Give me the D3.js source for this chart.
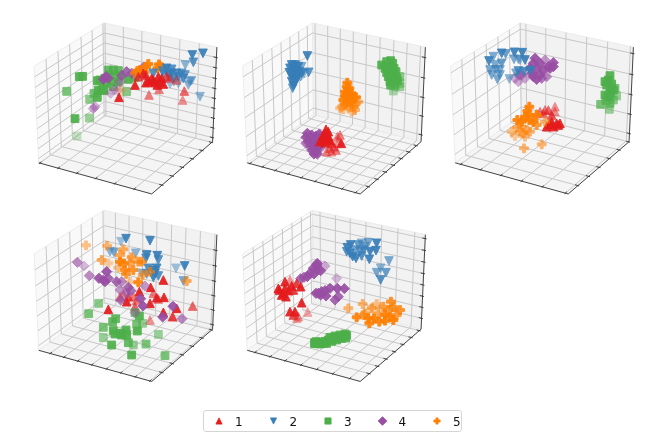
<!DOCTYPE html>
<html>
<head>
<meta charset="utf-8">
<title>3D scatter panels</title>
<style>
  body { margin: 0; background: #fff; }
  svg { display: block; filter: blur(.4px); }
</style>
</head>
<body>
<script src="https://cdn.jsdelivr.net/npm/d3@7"></script>
<div id="chart"></div>
<script>
// points are [x, y, shade], x/y on a 630x570 panel grid
var p1s1 = [[297,262,1],[345,225,1],[387,255,.6],[417,238,.6],[493,243,.7],[488,270,.5],[378,195,.9],[370,190,.9],[385,215,1],[400,210,1],[415,200,1],[420,215,1],[405,218,1],[378,218,1],[430,222,1],[355,200,.8],[440,200,.8],[425,205,1],[395,205,1],[412,225,1],[450,205,.5],[470,210,.5]];
var p1s2 = [[517,135,1],[549,130,1],[520,157,.9],[496,165,.6],[540,260,.6],[515,212,.6],[505,225,.6],[510,215,.6],[490,205,.9],[485,190,.8],[470,190,.9],[455,190,1],[440,175,1],[445,195,1],[430,190,.8],[400,190,.9],[460,205,.9],[475,200,.9],[450,222,.5],[475,220,.5],[462,215,.5],[495,195,.8],[428,183,.8],[455,178,.9]];
var p1s3 = [[171,378,.35],[165,326,1],[208,324,.6],[140,244,.8],[178,200,1],[188,199,1],[209,268,.7],[232,262,1],[320,245,.7],[222,250,.8],[235,240,1],[245,240,1],[252,242,.9],[232,212,1],[265,180,.9],[280,180,.9],[295,182,.9],[255,205,.9],[275,215,.9],[295,215,.9],[325,208,1],[345,203,.8],[270,195,.8],[285,200,.8],[260,222,.9],[240,210,1],[300,195,.8],[280,230,.8],[250,235,.9]];
var p1s4 = [[225,290,.5],[220,296,.5],[272,250,.4],[283,238,.4],[295,240,.4],[258,200,1],[250,208,1],[320,185,.9],[305,197,.8],[335,190,.8],[370,172,.8],[365,182,.7],[265,205,.9],[345,195,.6],[300,215,.5]];
var p1s5 = [[385,162,1],[417,163,1],[378,170,.9],[420,170,.9],[352,183,1],[360,180,.9],[303,240,.3],[412,175,1],[375,185,.8],[345,190,.8]];

var p2s1 = [[288,358,1],[285,370,1],[278,378,1],[295,378,1],[290,388,1],[275,392,1],[300,392,1],[285,398,1],[330,375,.6],[322,380,.5],[334,400,1],[305,400,.8],[312,410,.6],[300,415,.6],[290,425,.6],[305,425,.5],[318,420,.6],[325,395,.5],[295,365,1],[280,385,1],[268,395,.8]];
var p2s2 = [[232,138,1],[236,187,.9],[188,235,.8],[185,165,1],[195,165,1],[205,170,1],[180,175,1],[190,175,1],[200,178,1],[178,188,1],[188,188,1],[198,188,1],[208,185,1],[185,198,1],[195,198,1],[205,198,1],[215,190,1],[190,208,1],[200,208,1],[185,215,1],[195,218,1],[190,228,1],[222,190,.6],[215,170,.7],[212,200,.7]];
var p2s3 = [[455,165,1],[470,155,1],[482,152,1],[488,160,1],[465,175,1],[478,172,1],[492,175,1],[470,188,1],[485,190,1],[498,185,1],[475,200,1],[488,202,1],[500,205,1],[510,200,.7],[480,215,1],[495,215,1],[510,220,.6],[482,225,1],[495,228,.8],[490,243,.5],[510,230,.6],[502,212,1]];
var p2s4 = [[232,370,1],[245,375,1],[258,378,1],[268,372,1],[228,382,1],[240,385,1],[255,388,1],[268,385,1],[235,395,1],[248,398,1],[262,398,1],[228,400,.8],[242,408,1],[255,410,1],[268,408,1],[245,420,1],[258,422,1],[270,415,.8],[252,432,1],[262,432,1],[275,400,.5]];
var p2s5 = [[352,218,1],[350,230,1],[358,235,1],[345,245,1],[355,245,1],[365,250,1],[345,258,1],[355,260,1],[368,262,1],[378,262,1],[340,270,1],[352,275,1],[365,275,1],[385,275,.6],[335,290,.5],[330,295,.4],[345,285,.7],[358,290,.7],[372,290,.7],[375,300,.6],[365,305,.5],[340,298,.5],[350,250,1],[378,280,.6]];

var p3s1 = [[345,290,.5],[325,300,.7],[345,305,.5],[310,310,.6],[335,315,.8],[290,310,.3],[350,340,1],[335,335,1],[320,350,1],[340,350,1],[355,345,1],[300,305,.6],[360,340,1],[328,342,1],[315,300,.6]];
var p3s2 = [[147,153,1],[160,140,.7],[185,130,1],[197,132,.8],[223,127,1],[247,128,1],[165,165,.7],[185,160,.8],[222,148,.7],[235,148,.6],[255,150,1],[240,150,.6],[150,180,.7],[167,180,.7],[180,180,.7],[155,195,.7],[172,208,.7],[180,195,.7],[208,207,.6],[272,182,1],[252,185,.9],[235,183,.9],[228,190,.7]];
var p3s3 = [[510,197,1],[505,210,1],[500,225,1],[515,222,1],[510,238,1],[495,255,1],[520,240,1],[505,260,1],[530,258,.6],[482,283,.8],[510,280,.8],[520,270,.7],[498,272,.8],[508,298,.6],[525,235,.8],[495,215,1],[512,250,1]];
var p3s4 = [[285,145,1],[315,150,.6],[340,158,1],[280,160,1],[300,160,1],[325,170,1],[270,175,1],[290,175,1],[310,180,1],[330,175,1],[340,170,1],[280,200,1],[300,195,1],[320,200,.7],[290,208,1],[245,195,.7],[255,205,.5],[235,215,.5],[238,195,.7],[275,190,1],[305,205,.8],[225,205,.5]];
var p3s5 = [[268,290,1],[262,303,1],[290,315,1],[265,315,1],[232,330,1],[245,335,1],[268,330,1],[280,335,1],[255,320,1],[245,350,.6],[232,352,.7],[215,365,.5],[225,378,.4],[260,360,.6],[270,365,.6],[255,380,.5],[250,370,.6],[315,335,.6],[252,415,.6],[305,403,.6],[290,345,.8],[240,365,.5]];

var p4s1 = [[430,240,1],[392,262,1],[358,275,1],[432,292,1],[410,293,1],[400,280,.6],[390,310,1],[415,297,.6],[265,328,1],[320,305,1],[300,290,.6],[325,290,.8],[340,290,.6],[350,300,.6],[518,318,.7],[430,337,1],[470,325,1],[458,350,.9],[390,360,.5],[345,320,.7],[310,280,.5]];
var p4s2 = [[318,116,1],[303,125,.5],[390,122,1],[270,155,.6],[282,157,.7],[347,160,.6],[380,165,1],[412,167,1],[415,180,.9],[494,198,1],[468,205,.5],[490,243,.7],[385,205,.9],[410,205,1],[400,212,1],[380,222,.8],[400,232,1],[415,228,.9],[365,220,.6],[378,175,.9],[405,220,1]];
var p4s3 = [[236,310,.7],[206,341,.8],[287,356,.9],[278,365,.9],[250,382,.8],[250,413,.6],[280,392,1],[285,402,1],[305,405,1],[318,390,1],[320,405,1],[352,393,1],[350,372,.8],[368,370,.6],[358,348,1],[345,338,.8],[415,403,.6],[378,432,.8],[340,435,.6],[325,428,.9],[275,435,1],[335,465,1],[435,467,.8],[300,400,1]];
var p4s4 = [[172,187,.7],[192,198,.4],[208,227,.7],[260,215,1],[237,235,1],[255,245,1],[265,235,.9],[290,245,.9],[305,245,.7],[300,270,.6],[325,262,.9],[333,272,.8],[320,280,.7],[302,300,.8],[362,296,1],[369,318,1],[375,258,.6],[459,319,1],[428,351,1],[486,356,.7],[345,338,.5],[250,240,.9]];
var p4s5 = [[198,136,.5],[261,137,.6],[310,148,.7],[245,180,.7],[300,165,.7],[335,172,.8],[300,185,1],[312,190,.9],[365,185,.8],[330,190,.7],[295,203,.5],[340,210,.9],[355,185,.8],[318,222,.8],[368,225,.7],[355,247,1],[500,243,.7],[390,215,.7],[265,190,.4],[330,245,.4],[315,210,.9]];

var p5s1 = [[180,240,.5],[165,245,1],[200,250,.9],[148,270,1],[165,265,1],[185,258,1],[212,260,1],[175,272,1],[155,285,1],[168,290,1],[145,265,1],[190,270,.9],[215,308,1],[180,335,1],[195,335,1],[205,350,.5],[233,336,.4],[200,355,.4],[190,345,.8],[160,280,1]];
var p5s2 = [[352,143,1],[362,135,1],[350,155,.9],[368,170,1],[378,175,1],[360,160,1],[385,135,.8],[395,130,.6],[405,140,.7],[415,128,.7],[440,130,1],[420,155,1],[438,152,1],[418,178,1],[400,150,.8],[375,150,.7],[390,155,.8],[395,168,.9],[477,183,.7],[452,205,.6],[440,218,.7],[468,218,.8],[452,240,.9]];
var p5s3 = [[254,431,1],[262,430,1],[272,426,1],[285,424,1],[295,420,1],[310,416,1],[325,412,1],[340,408,1],[350,406,1],[258,425,1],[270,432,1],[290,430,1],[305,424,1],[320,420,1],[335,415,1],[347,414,1],[254,428,1],[280,430,1],[300,412,1],[315,408,1],[330,405,1],[345,402,1]];
var p5s4 = [[262,190,1],[285,198,.5],[250,205,1],[262,208,1],[272,212,1],[240,220,1],[252,222,1],[222,232,.9],[212,236,.9],[232,230,1],[320,235,.4],[258,280,1],[272,285,1],[285,272,1],[300,265,1],[322,265,1],[343,266,1],[288,288,1],[325,290,.9],[315,300,.9],[275,275,1],[260,195,1],[265,280,1]];
var p5s5 = [[355,325,.6],[380,352,1],[398,312,.6],[405,340,.7],[425,325,.8],[440,312,.5],[460,320,.8],[483,305,.9],[490,322,.9],[510,330,.9],[415,355,1],[432,355,1],[448,365,1],[418,370,1],[465,345,1],[480,350,1],[490,360,1],[500,345,.8],[445,340,.7],[465,362,1],[475,330,.8],[400,345,.7]];

var labels = ["1", "2", "3", "4", "5"];
var colors = ["#e41a1c", "#377eb8", "#4daf4a", "#984ea3", "#ff7f00"];

// tick positions along each cube edge, 0..1
var p1x = [.01, .178, .346, .514, .682, .85], p1y = [.16, .325, .49, .655, .82, .985], p1z = [.045, .152, .258, .365, .47, .575, .68, .79, .895];
var p2x = [.024, .14, .255, .372, .49, .61, .73, .845, .96], p2y = [.13, .265, .40, .53, .66, .79, .92], p2z = [.076, .28, .48, .685, .895];
var p3x = [.05, .232, .414, .597, .78, .975], p3y = [.15, .32, .49, .66, .83, .995], p3z = [.09, .30, .51, .72, .935];
var p4x = [.105, .23, .355, .48, .61, .735, .86, .985], p4y = [.16, .325, .49, .655, .82, .985], p4z = [.05, .21, .365, .52, .68, .84];
var p5x = [.07, .21, .345, .485, .625, .765, .91], p5y = [.14, .275, .41, .55, .69, .83, .97], p5z = [.12, .24, .36, .48, .60, .72, .84, .96];

var panels = [
  {cx: 127, cy: 105.5, ox: 20, oy: 10, xt: p1x, yt: p1y, zt: p1z, series: [p1s1, p1s2, p1s3, p1s4, p1s5], order: [2, 3, 4, 1, 0]},
  {cx: 335.5, cy: 105.5, ox: 230, oy: 10, xt: p2x, yt: p2y, zt: p2z, series: [p2s1, p2s2, p2s3, p2s4, p2s5], order: [1, 2, 4, 3, 0]},
  {cx: 543.5, cy: 105.5, ox: 440, oy: 10, xt: p3x, yt: p3y, zt: p3z, series: [p3s1, p3s2, p3s3, p3s4, p3s5], order: [3, 1, 2, 0, 4]},
  {cx: 127, cy: 293, ox: 20, oy: 200, xt: p4x, yt: p4y, zt: p4z, series: [p4s1, p4s2, p4s3, p4s4, p4s5], order: [1, 4, 0, 2, 3]},
  {cx: 335.5, cy: 293, ox: 230, oy: 200, xt: p5x, yt: p5y, zt: p5z, series: [p5s1, p5s2, p5s3, p5s4, p5s5], order: [1, 4, 2, 3, 0]}
];
var markerSizes = [8.6, 8.6, 7.8, 7.2, 8.8];

var width = 665, height = 437;
var svg = d3.select("#chart").append("svg").attr("width", width).attr("height", height);

// matplotlib style marker outlines, size is the full width in px
function marker(kind) {
  return {draw: function(c, s) {
    var r = s / 2;
    if (kind == 0) { c.moveTo(0, -r); c.lineTo(r, r); c.lineTo(-r, r); c.closePath(); }
    if (kind == 1) { c.moveTo(0, r); c.lineTo(r, -r); c.lineTo(-r, -r); c.closePath(); }
    if (kind == 2) { c.rect(-r, -r, s, s); }
    if (kind == 3) { r = r * 1.41; c.moveTo(0, -r); c.lineTo(r, 0); c.lineTo(0, r); c.lineTo(-r, 0); c.closePath(); }
    if (kind == 4) {
      var a = r / 3;
      c.moveTo(-a, -r); c.lineTo(a, -r); c.lineTo(a, -a); c.lineTo(r, -a); c.lineTo(r, a); c.lineTo(a, a);
      c.lineTo(a, r); c.lineTo(-a, r); c.lineTo(-a, a); c.lineTo(-r, a); c.lineTo(-r, -a); c.lineTo(-a, -a);
      c.closePath();
    }
  }};
}
function markerPath(kind, s) {
  return d3.symbol().type(marker(kind)).size(s)();
}

// perspective view, elev 30 azim -60, distance 10
var u = [0.866, 0.5, 0], v = [-0.25, 0.433, 0.866], w = [0.433, -0.75, 0.5];
function project(x, y, z) {
  var p = [x - .5, y - .5, z - .5];
  var dz = 10 - d3.sum(p, function(d, i) { return d * w[i]; });
  return [
    d3.sum(p, function(d, i) { return d * u[i]; }) / dz,
    d3.sum(p, function(d, i) { return d * v[i]; }) / dz
  ];
}

panels.forEach(function(panel) {
  var sx = d3.scaleLinear().domain([-.1, .1]).range([panel.cx - 130.4, panel.cx + 130.4]);
  var sy = d3.scaleLinear().domain([-.1, .1]).range([panel.cy + 110.3, panel.cy - 110.3]);
  var px = d3.scaleLinear().domain([0, 630]).range([panel.ox, panel.ox + 210]);
  var py = d3.scaleLinear().domain([0, 570]).range([panel.oy, panel.oy + 190]);
  var g = svg.append("g");

  var line = d3.line()
    .x(function(d) { var q = project(d[0], d[1], d[2]); return sx(q[0]); })
    .y(function(d) { var q = project(d[0], d[1], d[2]); return sy(q[1]); });

  var panes = [
    {fill: "#f9f9f9", c: [[0,0,0],[0,1,0],[0,1,1],[0,0,1]]},
    {fill: "#f2f2f2", c: [[0,1,0],[1,1,0],[1,1,1],[0,1,1]]},
    {fill: "#f5f5f5", c: [[0,0,0],[1,0,0],[1,1,0],[0,1,0]]}
  ];
  g.selectAll(".pane").data(panes).enter().append("path")
    .attr("d", function(d) { return line(d.c) + "Z"; })
    .attr("fill", function(d) { return d.fill; })
    .attr("stroke", "#e8e8e8").attr("stroke-width", .8);

  var grid = [];
  panel.xt.forEach(function(t) { grid.push([[t,0,0],[t,1,0],[t,1,1]]); });
  panel.yt.forEach(function(t) { grid.push([[1,t,0],[0,t,0],[0,t,1]]); });
  panel.zt.forEach(function(t) { grid.push([[0,0,t],[0,1,t],[1,1,t]]); });
  g.selectAll(".grid").data(grid).enter().append("path")
    .attr("d", line).attr("fill", "none").attr("stroke", "#c8c8c8").attr("stroke-width", 1);

  // axis edges and their small ticks
  var edges = [[[0,0,0],[1,0,0]], [[1,0,0],[1,1,0]], [[1,1,0],[1,1,1]]];
  var tick = [];
  panel.xt.forEach(function(t) { tick.push([[t,-.012,0],[t,.025,0]]); });
  panel.yt.forEach(function(t) { tick.push([[.975,t,0],[1.012,t,0]]); });
  panel.zt.forEach(function(t) { tick.push([[.975,1,t],[1.012,1,t]]); });
  g.selectAll(".edge").data(edges.concat(tick)).enter().append("path")
    .attr("d", line).attr("fill", "none").attr("stroke", "#333").attr("stroke-width", .9);

  // edge colour matches the face, like a scatter with edgecolors='face'
  panel.order.forEach(function(i) {
    g.append("g").selectAll("path").data(panel.series[i]).enter().append("path")
      .attr("d", markerPath(i, markerSizes[i]))
      .attr("transform", function(d) { return "translate(" + px(d[0]) + "," + py(d[1]) + ")"; })
      .attr("fill", colors[i])
      .attr("stroke", colors[i])
      .attr("stroke-width", 1)
      .attr("stroke-linejoin", "miter")
      .attr("opacity", function(d) { return d[2] * .92; });
  });
});

// legend
var legend = svg.append("g");
legend.append("rect")
  .attr("x", 203.5).attr("y", 410.5).attr("width", 258).attr("height", 21).attr("rx", 2.5)
  .attr("fill", "#fff").attr("stroke", "#d5d5d5");
var legendX = d3.scalePoint().domain(labels).range([219, 437]);
labels.forEach(function(l, i) {
  legend.append("path")
    .attr("d", markerPath(i, 6.2))
    .attr("transform", "translate(" + legendX(l) + ",421)")
    .attr("fill", colors[i])
    .attr("stroke", colors[i])
    .attr("stroke-width", .8);
  legend.append("text")
    .attr("x", legendX(l) + 16).attr("y", 425.5)
    .attr("font-family", "DejaVu Sans").attr("font-size", 12).attr("fill", "#111")
    .text(l);
});
</script>
</body>
</html>
